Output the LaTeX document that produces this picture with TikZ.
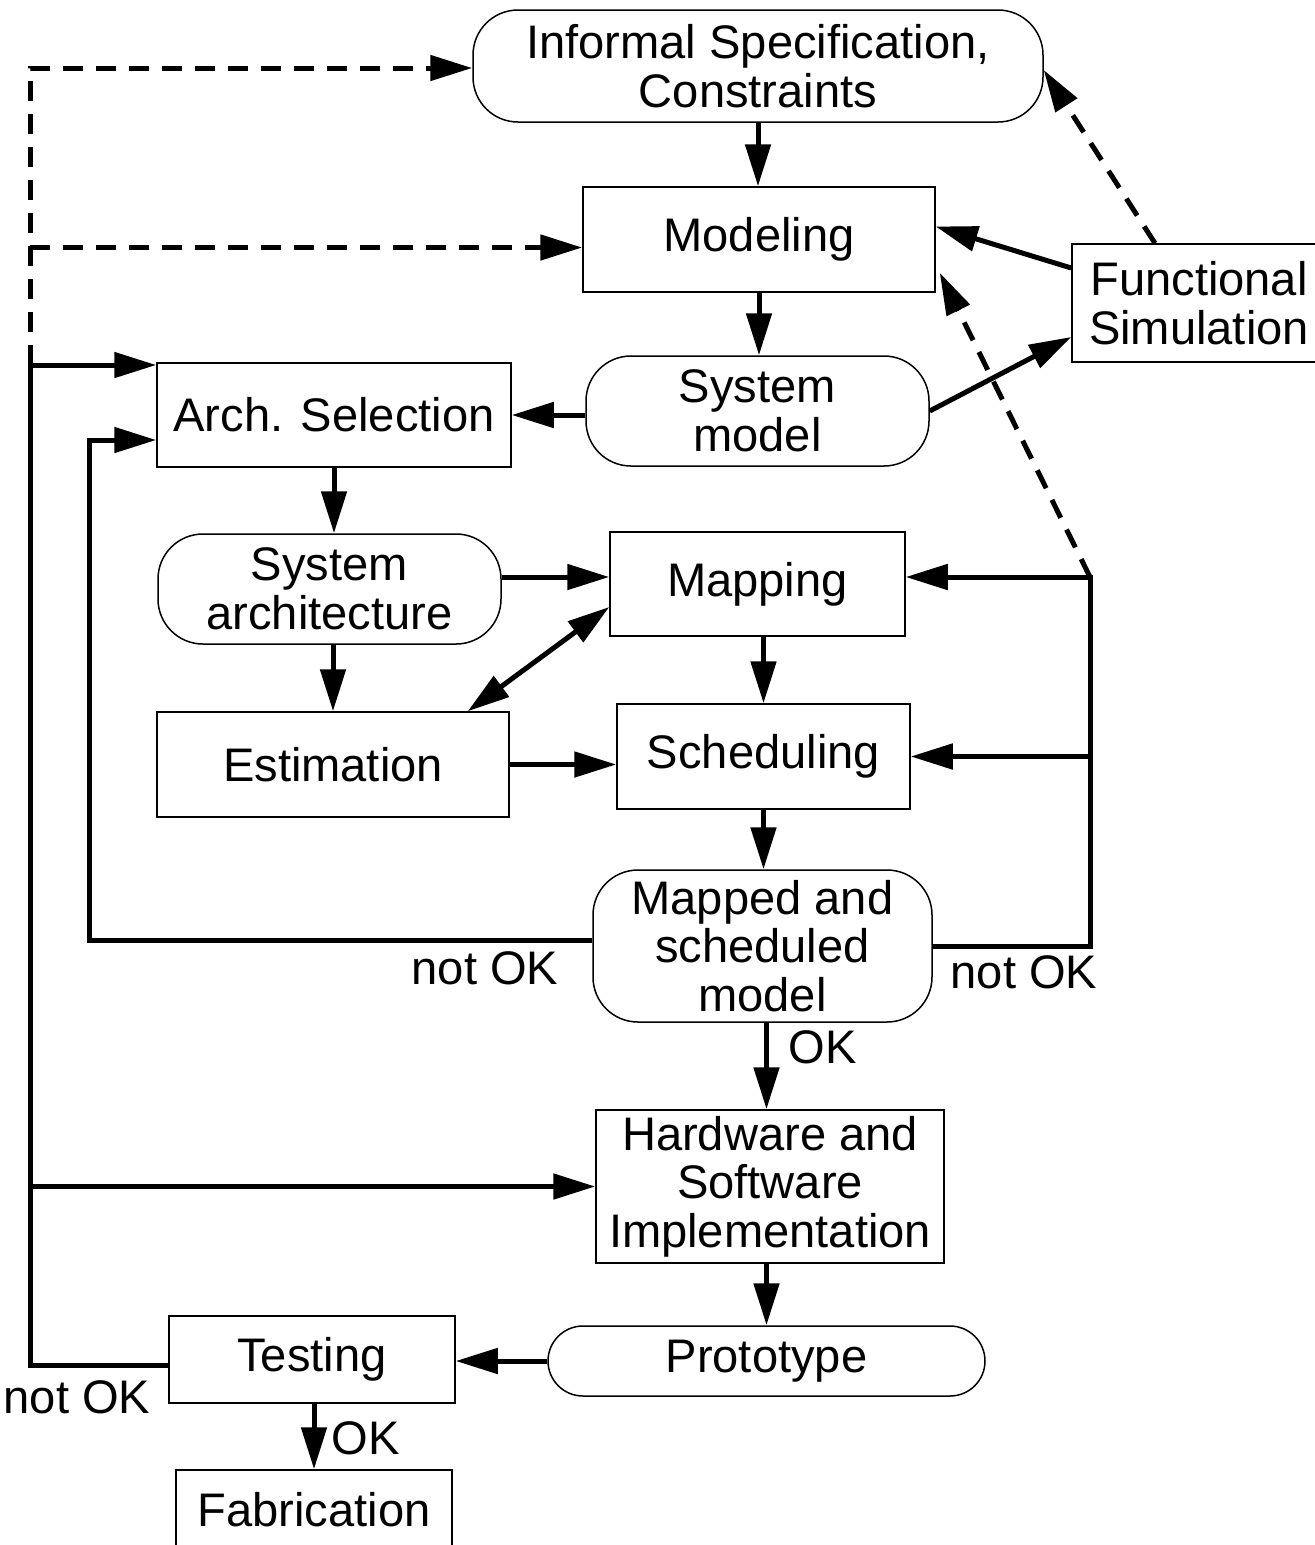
\documentclass[tikz,border=0pt]{standalone}
\usepackage{fontspec}
\setmainfont{Liberation Sans}
\usetikzlibrary{arrows.meta}

\begin{document}
\begin{tikzpicture}[x=0.1mm,y=-0.1mm,
  font=\fontsize{13.4}{13.8}\selectfont,
  >={Triangle[length=4.2mm,width=2.5mm]},
  box/.style={draw,line width=0.15mm,align=center,inner sep=0pt},
  rbox/.style={box,rounded corners=4.5mm},
  link/.style={line width=0.5mm},
  flow/.style={link,->},
  dflow/.style={flow,dash pattern=on 2mm off 1.3mm}]

\useasboundingbox (0,0) rectangle (1314,1545);

% Specification et modele
\node[rbox,minimum width=57mm,minimum height=11.2mm] (spec) at (758,66)
{Informal Specification,\\Constraints};
\node[box,minimum width=35.2mm,minimum height=10.5mm] (model) at (759,239.5)
{Modeling};
\node[box,minimum width=25.4mm,minimum height=11.8mm] (funcsim) at (1199,303)
{Functional\\Simulation};
\node[rbox,minimum width=34.3mm,minimum height=11mm] (sysmodel) at (757.5,411)
{System\\model};

% Architecture, mapping, scheduling
\node[box,minimum width=35.4mm,minimum height=10.4mm] (archsel) at (334,415)
{Arch. Selection};
\node[rbox,minimum width=34.3mm,minimum height=11mm] (sysarch) at (329.5,589)
{System\\architecture};
\node[box,minimum width=29.5mm,minimum height=10.4mm] (mapping) at (757.5,584)
{Mapping};
\node[box,minimum width=35.2mm,minimum height=10.5mm] (estim) at (333,764.5)
{Estimation};
\node[box,minimum width=29.3mm,minimum height=10.5mm] (sched) at (763.5,756.5)
{Scheduling};
\node[rbox,minimum width=33.9mm,minimum height=15.2mm] (mapped) at (762.5,946)
{Mapped and\\scheduled\\model};

% Implementation
\node[box,minimum width=34.8mm,minimum height=15.3mm] (hwsw) at (770,1186.5)
{Hardware and\\Software\\Implementation};
\node[rbox,rounded corners=3.5mm,minimum width=43.7mm,minimum height=7mm] (proto) at (766.5,1361)
{Prototype};
\node[box,minimum width=28.6mm,minimum height=8.7mm] (testing) at (312,1359.5)
{Testing};
\node[box,minimum width=27.6mm,minimum height=8mm] (fab) at (314,1510)
{Fabrication};

% Etiquettes
\node (nokl) at (485,968) {not OK};
\node (nokr) at (1024,972) {not OK};
\node (okhw) at (823,1047) {OK};
\node (nokt) at (77,1397) {not OK};
\node (okfab) at (366,1438) {OK};

\coordinate (larch) at (30,365);
\coordinate (rtop) at (1090,577);

% Flot principal
\draw[flow] (spec.south) -- (spec.south |- model.north);
\draw[flow] (model.south) -- (model.south |- sysmodel.north);
\draw[flow] (archsel.east -| sysmodel.west) -- (archsel.east);
\draw[flow] (sysmodel.east) -- ([yshift=-3.4mm]funcsim.west);
\draw[flow] ([yshift=3.5mm]funcsim.west) -- ([yshift=1.3mm]model.east);
\draw[dflow] ([xshift=-4.4mm]funcsim.north) -- ([yshift=-0.4mm]spec.east);
\draw[flow] (archsel.south) -- (archsel.south |- sysarch.north);
\draw[flow] ([yshift=1.2mm]sysarch.east) -- ([yshift=1.2mm]sysarch.east -| mapping.west);
\draw[flow] (estim.north |- sysarch.south) -- (estim.north);
\draw[flow,<->] ([xshift=-4.2mm]estim.north east) -- ([yshift=-2.3mm]mapping.west);
\draw[flow] (estim.east) -- (estim.east -| sched.west);
\draw[flow] (sched.north |- mapping.south) -- (sched.north);
\draw[flow] (sched.south) -- (sched.south |- mapped.north);
\draw[flow] ([xshift=0.4mm]mapped.south) -- ([xshift=0.4mm]mapped.south |- hwsw.north);
\draw[flow] (proto.north |- hwsw.south) -- (proto.north);
\draw[flow] (proto.west) -- (proto.west -| testing.east);
\draw[flow] (testing.south -| fab.north) -- (fab.north);

% Retours
\draw[flow] ([yshift=0.6mm]mapped.west) -- ++(-503,0) |- ([yshift=-2.5mm]archsel.west);
\draw[flow] (mapped.east) -| (rtop) -- (rtop -| mapping.east);
\draw[flow] (rtop |- sched.east) -- (sched.east);
\draw[dflow] (rtop) -- ([xshift=0.4mm,yshift=2mm]model.south east);

\draw[link] ([yshift=-0.6mm]testing.west) -| (larch);
\draw[flow] (larch) -- (larch -| archsel.west);
\draw[flow] (hwsw.west -| larch) -- (hwsw.west);
\draw[dflow] (larch) |- ([yshift=-0.2mm]spec.west);
\draw[dflow] ([yshift=-0.8mm]model.west -| larch) -- ([yshift=-0.8mm]model.west);

\end{tikzpicture}
\end{document}
